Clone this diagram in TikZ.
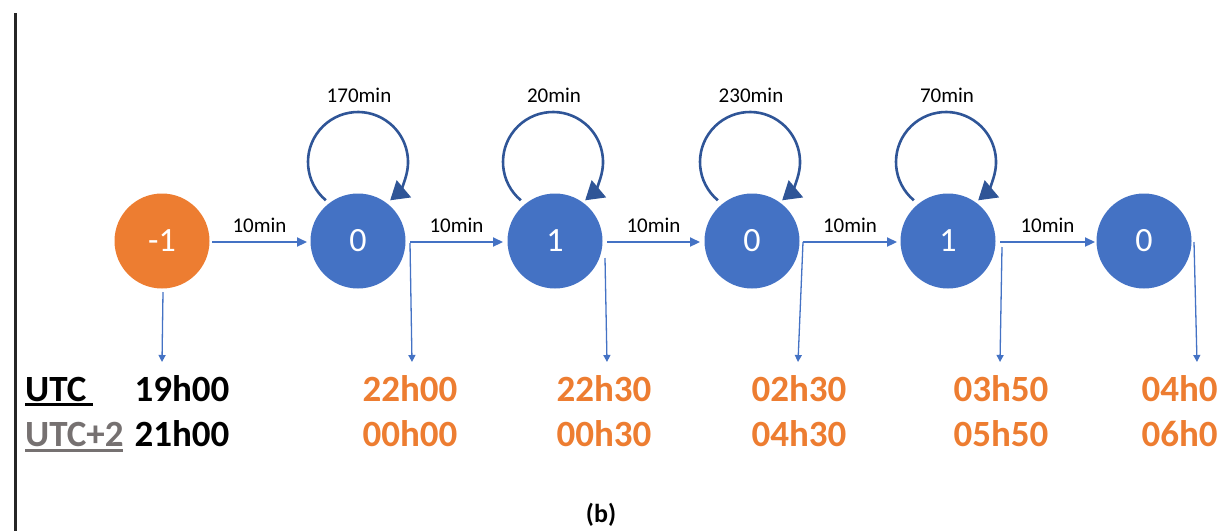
\documentclass[tikz,border=0pt]{standalone}
\usepackage{fontspec}
\setmainfont{Carlito}
\usetikzlibrary{arrows.meta}
\definecolor{nodeblue}{HTML}{4472C4}
\definecolor{loopblue}{HTML}{2F5597}
\definecolor{orng}{HTML}{ED7D31}
\definecolor{utcgray}{HTML}{767171}
\tikzset{
  state/.style={circle, fill=nodeblue, minimum size=95pt, inner sep=0pt, outer sep=0pt,
    text=white, font=\fontsize{34}{34}\selectfont},
  startstate/.style={state, fill=orng},
  flow/.style={draw=nodeblue, line width=2.2pt, -{Triangle[length=10pt,width=9pt]}},
  drop/.style={draw=nodeblue, line width=1.3pt, -{Triangle[length=7pt,width=7pt]}},
  selfloop/.style={draw=loopblue, line width=2.6pt, -{Triangle[length=18pt,width=22pt]}},
  minlbl/.style={font=\fontsize{21}{21}\selectfont, anchor=base, inner sep=0pt},
  timelbl/.style={font=\bfseries\fontsize{37}{37}\selectfont, anchor=base, inner sep=0pt},
}
\begin{document}
\begin{tikzpicture}[x=1pt, y=-1pt]
\useasboundingbox (0,0) rectangle (1218,531);
\clip (0,0) rectangle (1218,531);
% left border line
\draw[line width=3pt, black!85] (15.5,13) -- (15.5,531);

% states
\node[startstate] (s0) at (162,241) {-1};
\node[state] (s1) at (358,241) {0};
\node[state] (s2) at (555,241) {1};
\node[state] (s3) at (752,241) {0};
\node[state] (s4) at (948,241) {1};
\node[state] (s5) at (1144,241) {0};

% horizontal transitions
\coordinate (h0a) at (212,242); \coordinate (h0b) at (307,242);
\coordinate (h1a) at (410,242); \coordinate (h1b) at (503,242);
\coordinate (h2a) at (607,242); \coordinate (h2b) at (700,242);
\coordinate (h3a) at (803,242); \coordinate (h3b) at (897,242);
\coordinate (h4a) at (1000,242); \coordinate (h4b) at (1095,242);
\draw[flow] (h0a) -- node[minlbl, above=8pt] (m0) {10min} (h0b);
\draw[flow] (h1a) -- node[minlbl, above=8pt] (m1) {10min} (h1b);
\draw[flow] (h2a) -- node[minlbl, above=8pt] (m2) {10min} (h2b);
\draw[flow] (h3a) -- node[minlbl, above=8pt] (m3) {10min} (h3b);
\draw[flow] (h4a) -- node[minlbl, above=8pt] (m4) {10min} (h4b);

% self loops
\foreach \n/\cx/\lab in {s1/358/170min, s2/553/20min, s3/750/230min, s4/946/70min}{
  \draw[selfloop] ([shift={(130:50)}]\cx,162) arc[start angle=130, end angle=410, radius=50];
  \node[minlbl] (l\n) at (\cx+1,102) {\lab};
}

% drop arrows to time labels
\coordinate (d0a) at (163,292); \coordinate (d0b) at (162,362);
\coordinate (d1a) at (410,243); \coordinate (d1b) at (412,362);
\coordinate (d2a) at (605,258); \coordinate (d2b) at (607,362);
\coordinate (d3a) at (803,242); \coordinate (d3b) at (798,362);
\coordinate (d4a) at (1002,247); \coordinate (d4b) at (1000,362);
\coordinate (d5a) at (1194,242); \coordinate (d5b) at (1197,362);
\draw[drop] (d0a) -- (d0b);
\draw[drop] (d1a) -- (d1b);
\draw[drop] (d2a) -- (d2b);
\draw[drop] (d3a) -- (d3b);
\draw[drop] (d4a) -- (d4b);
\draw[drop] (d5a) -- (d5b);

% row headers
\node[timelbl, anchor=base west] (utc) at (25,401) {UTC};
\draw[line width=3pt] (25,404) -- (93,404);
\node[timelbl, anchor=base west, text=utcgray] (utc2) at (25,446) {UTC+2};
\draw[line width=3pt, utcgray] (25,450) -- (123,450);

% times
\node[timelbl] (t0a) at (182,401) {19h00};
\node[timelbl] (t0b) at (182,446) {21h00};
\foreach \x/\a/\b [count=\i] in {410/22h00/00h00, 604/22h30/00h30, 799/02h30/04h30, 1001/03h50/05h50, 1189/04h00/06h00}{
  \node[timelbl, text=orng] (ta\i) at (\x,401) {\a};
  \node[timelbl, text=orng] (tb\i) at (\x,446) {\b};
}

% caption
\node[font=\bfseries\fontsize{26}{26}\selectfont, anchor=base, inner sep=0pt] (cap) at (601,522) {(b)};
\end{tikzpicture}
\end{document}
